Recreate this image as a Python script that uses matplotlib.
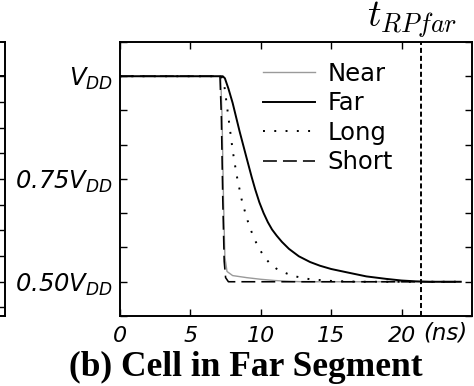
import numpy as np
import matplotlib
matplotlib.use("Agg")
import matplotlib.pyplot as plt

plt.rcParams['mathtext.fontset'] = 'custom'
plt.rcParams['mathtext.it'] = 'DejaVu Sans:italic'
plt.rcParams['mathtext.rm'] = 'DejaVu Sans:italic'

# bitline voltage (fraction of VDD) vs time (ns)
near_t = [0, 7.15, 7.25, 7.35, 7.45, 7.6, 8.0, 9.0, 10.0, 11.0, 12.0, 13.0, 24.2]
near_v = [1.0, 1.0, 0.90, 0.70, 0.56, 0.525, 0.515, 0.51, 0.506, 0.503, 0.501, 0.5, 0.5]

far_t = [0, 7.3, 7.45, 7.7, 8.0, 8.5, 9.0, 9.35, 9.6, 9.9, 10.2, 10.5, 10.8, 11.13, 11.5,
         12.0, 12.7, 13.5, 14.2, 15.0, 16.1, 17.5, 18.9, 20.0, 21.0, 22.0, 24.2]
far_v = [1.0, 1.0, 0.995, 0.97, 0.935, 0.865, 0.80, 0.755, 0.725, 0.693, 0.667, 0.645,
         0.627, 0.612, 0.597, 0.58, 0.562, 0.548, 0.539, 0.531, 0.523, 0.513, 0.507,
         0.503, 0.501, 0.5, 0.5]

long_t = [0, 7.2, 7.4, 7.7, 8.0, 8.28, 8.64, 9.0, 9.3, 9.6, 9.9, 10.2, 10.6, 11.1, 11.7,
          12.3, 13.5, 15.0, 17.0, 24.2]
long_v = [1.0, 1.0, 0.98, 0.90, 0.82, 0.76, 0.70, 0.655, 0.625, 0.60, 0.58, 0.563, 0.546,
          0.532, 0.522, 0.514, 0.506, 0.502, 0.5, 0.5]

short_t = [0, 7.1, 7.2, 7.3, 7.4, 7.5, 7.7, 24.2]
short_v = [1.0, 1.0, 0.9, 0.7, 0.55, 0.51, 0.5, 0.5]

t_rp_far = 21.4

yticks_major = [0.5, 0.75, 1.0]
ytick_labels = [r'$0.50V_{DD}$', r'$0.75V_{DD}$', r'$V_{DD}$']
yticks_minor = [k / 12 for k in range(5, 14)]
xticks = [0, 5, 10, 15, 20]

fig = plt.figure(figsize=(4.74, 3.86), dpi=100)

# piece of panel (a) cut off at the left edge
axl = fig.add_axes([-0.5, 70/386, 0.5 + 5/474, 274/386])
axl.plot([0, 1], [1.0, 1.0], color='black', lw=1.4)
axl.set_xlim(0, 1)
axl.set_ylim(5/12, 13/12)
axl.set_yticks([1 - k/16 for k in range(0, 10)])
axl.set_xticks([])
axl.tick_params(axis='y', direction='in', left=False, right=True, labelleft=False,
                length=5, width=1)
for s in axl.spines.values():
    s.set_linewidth(1.4)

ax = fig.add_axes([120/474, 70/386, 352/474, 274/386])
ax.plot(near_t, near_v, color='#9a9a9a', lw=1.0, label='Near')
ax.plot(far_t, far_v, color='black', lw=1.4, label='Far')
ax.plot(long_t, long_v, color='black', lw=1.4, linestyle=(0, (1, 4.8)), label='Long')
ax.plot(short_t, short_v, color='black', lw=1.15, linestyle=(0, (8.7, 3.8)), label='Short')
ax.axvline(t_rp_far, color='black', lw=1.4, linestyle=(0, (2.6, 1.5)))

ax.set_xlim(0, 25)
ax.set_ylim(5/12, 13/12)
ax.set_xticks(xticks)
ax.set_xticklabels([str(x) for x in xticks], fontsize=16, family='DejaVu Sans', style='italic')
ax.set_yticks(yticks_major)
ax.set_yticklabels(ytick_labels, fontsize=17.5)
ax.set_yticks(yticks_minor, minor=True)
ax.tick_params(which='both', direction='in', top=True, right=True, length=5, width=1)
ax.tick_params(axis='x', pad=7)
ax.tick_params(axis='y', pad=5)
for s in ax.spines.values():
    s.set_linewidth(1.4)

ax.text(23.1, -17/274, '(ns)', transform=ax.get_xaxis_transform(), fontsize=16.5,
        family='DejaVu Sans', style='italic', ha='center', va='center')

leg = ax.legend(loc='upper left', bbox_to_anchor=(263/474, 1 - 62/386),
                bbox_transform=fig.transFigure, frameon=False, borderpad=0,
                borderaxespad=0, handlelength=2.15, handletextpad=0.5,
                labelspacing=0.22, prop={'family': 'DejaVu Sans', 'size': 17.5})

fig.text(412/474, 1 - 27/386, r'$t_{RPfar}$', math_fontfamily='cm', fontsize=27,
         ha='center', va='baseline')
fig.text(-3/474, 1 - 340/386, '(ns)', fontsize=16, family='DejaVu Sans', style='italic',
         ha='right', va='baseline')
fig.text(246/474, 1 - 376/386, '(b) Cell in Far Segment', family='Liberation Serif',
         weight='bold', fontsize=25.5, ha='center', va='baseline')

fig.savefig('out.png', dpi=100)
